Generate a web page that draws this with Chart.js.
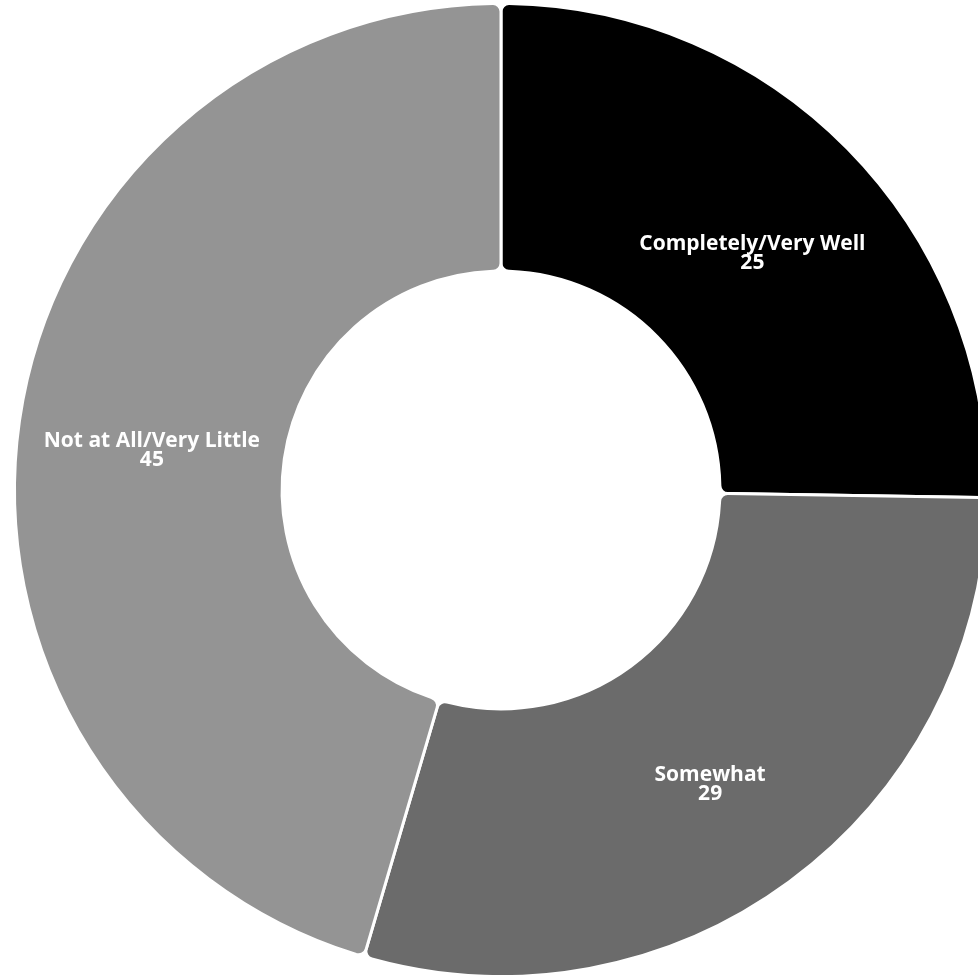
<!DOCTYPE html>
<html>
<head>
<meta charset="utf-8">
<script src="https://cdn.jsdelivr.net/npm/chart.js@4"></script>
<style>
  html, body { margin: 0; padding: 0; background: #fff; overflow: hidden; }
  #wrap { position: absolute; left: 0; top: 0; width: 1002px; height: 980px; }
</style>
</head>
<body>
<div id="wrap"><canvas id="donut"></canvas></div>
<script>
const labels = ["Completely/Very Well", "Somewhat", "Not at All/Very Little"];
const values = [25, 29, 45];
const colors = ["#000000", "#6b6b6b", "#949494"];

// draws label + value at the middle of each arc
const sliceLabels = {
      id: "sliceLabels",
      afterDatasetsDraw(chart) {
            const ctx = chart.ctx;
            const meta = chart.getDatasetMeta(0);
            ctx.save();
            ctx.fillStyle = "#ffffff";
            ctx.textAlign = "center";
            ctx.textBaseline = "middle";
            ctx.font = "bold 21px 'Open Sans'";
            meta.data.forEach((arc, i) => {
                  const pos = arc.tooltipPosition();
                  ctx.fillText(labels[i], pos.x, pos.y + 1);
                  ctx.fillText(String(values[i]), pos.x, pos.y + 20);
            });
            ctx.restore();
      },
};

new Chart(document.getElementById("donut"), {
      type: "doughnut",
      data: {
            labels: labels,
            datasets: [
                  {
                        data: values,
                        backgroundColor: colors,
                        borderColor: "#ffffff",
                        borderWidth: 3,
                        borderRadius: 8,
                  },
            ],
      },
      options: {
            responsive: true,
            maintainAspectRatio: false,
            animation: false,
            cutout: "45%",
            layout: { padding: { top: 2, bottom: 2 } },
            plugins: {
                  legend: { display: false },
                  tooltip: { enabled: false },
            },
      },
      plugins: [sliceLabels],
});
</script>
</body>
</html>
